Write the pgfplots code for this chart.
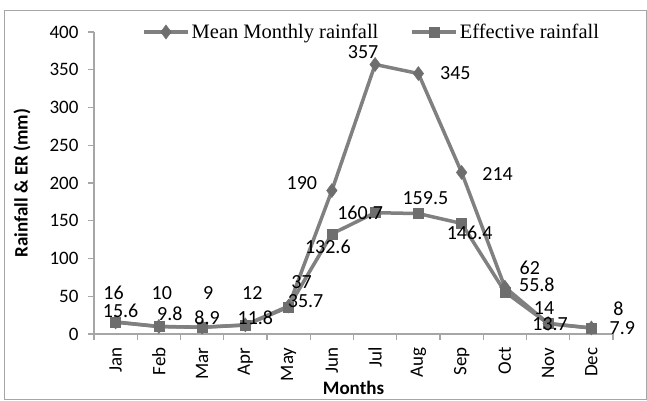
\documentclass[border=0pt]{standalone}
\usepackage{pgfplots}
\usepackage{pgfplotstable}
\pgfplotsset{compat=1.18}
\usepackage{fontspec}
\setmainfont{Carlito}
\newfontfamily\legfont{Liberation Serif}
\definecolor{lin}{RGB}{128,128,128}
\definecolor{mk}{RGB}{110,110,110}
\definecolor{axg}{RGB}{166,166,166}

\pgfplotstableread{
x y dx dy lab
0 16 -2 29 16
1 10 3 33 10
2 9 6 34 9
3 12 7 32 12
4 37 13 24 37
5 190 -30 7 190
6 357 -12 12 357
7 345 37 0 345
8 214 36 -2 214
9 62 25 19 62
10 14 -4 15 14
11 8 27 19 8
}\meantab

\pgfplotstableread{
x y dx dy lab
0 15.6 5 11 15.6
1 9.8 11 13 9.8
2 8.9 5 10 8.9
3 11.8 10 7 11.8
4 35.7 17 6 35.7
5 132.6 -4 -13 132.6
6 160.7 -15 0 160.7
7 159.5 7 15 159.5
8 146.4 8 -9 146.4
9 55.8 32 7 55.8
10 13.7 2 0 13.7
11 7.9 31 0 7.9
}\efftab

\pgfplotsset{
  dlabels/.style={
    point meta=explicit symbolic,
    visualization depends on={\thisrow{dx}\as\dx},
    visualization depends on={\thisrow{dy}\as\dy},
    nodes near coords={\pgfplotspointmeta},
    nodes near coords style={anchor=center, xshift=\dx*1pt, yshift=\dy*1pt, font=\fontsize{20}{21}\selectfont, text=black},
  }
}

\begin{document}
\begin{tikzpicture}
\path[use as bounding box] (-94pt,-67pt) rectangle (553pt,334pt);
\draw[axg, line width=1pt] (-89pt,-65pt) rectangle (552pt,323pt);
\begin{axis}[
  at={(0pt,0pt)}, anchor=south west,
  scale only axis, width=519pt, height=302pt,
  xmin=-0.5, xmax=11.5, ymin=0, ymax=400,
  clip=false,
  /pgf/number format/assume math mode=true,
  axis x line=bottom, axis y line=left,
  axis line style={-, axg, line width=1.2pt},
  xtick={0,...,11},
  xticklabels={Jan,Feb,Mar,Apr,May,Jun,Jul,Aug,Sep,Oct,Nov,Dec},
  ytick={0,50,...,400},
  minor xtick={-0.5,0.5,...,11.5},
  minor ytick={0,50,...,400},
  major tick length=0pt, minor tick length=6pt, tick align=outside,
  minor tick style={axg, line width=1.2pt},
  tick label style={font=\fontsize{19}{20}\selectfont, text=black},
  yticklabel style={xshift=-12pt, anchor=east},
  xticklabel style={yshift=-10pt, rotate=90, anchor=east},
  xlabel={Months},
  ylabel={Rainfall \& ER (mm)},
  every axis y label/.style={at={([xshift=-72pt]axis description cs:0,0.5)}, rotate=90, anchor=center, font=\bfseries\fontsize{19}{20}\selectfont},
  every axis x label/.style={at={([yshift=-54pt]axis description cs:0.5,0)}, anchor=center, font=\bfseries\fontsize{19}{20}\selectfont},
  legend columns=2,
  legend style={draw=none, fill=none, at={([xshift=45pt]rel axis cs:0,1)}, anchor=west,
    font=\legfont\fontsize{20.5}{22}\selectfont,
    /tikz/every even column/.append style={column sep=30pt}},
  legend image code/.code={\draw[#1, mark repeat=2, mark phase=2] plot coordinates {(0pt,0pt) (22pt,0pt) (44pt,0pt)};},
]
\addplot[lin, line width=3.5pt, mark=diamond*, mark size=7pt, mark options={draw=mk, fill=mk, line width=0.5pt}, dlabels]
  table[x=x, y=y, meta=lab]{\meantab};
\addlegendentry{Mean Monthly rainfall}
\addplot[lin, line width=3.5pt, mark=square*, mark size=5pt, mark options={draw=mk, fill=mk, line width=0.5pt}, dlabels]
  table[x=x, y=y, meta=lab]{\efftab};
\addlegendentry{Effective rainfall}
\end{axis}
\end{tikzpicture}
\end{document}
